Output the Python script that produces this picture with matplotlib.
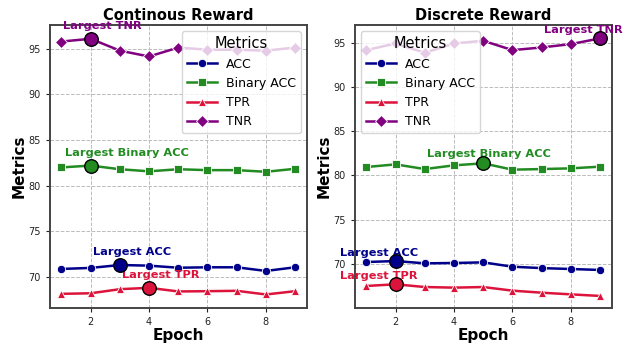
import numpy as np
import matplotlib
matplotlib.use("Agg")
import matplotlib.pyplot as plt

epochs = np.arange(1, 10)

# Continuous reward run
cont_acc = [70.87, 70.98, 71.30, 71.23, 71.00, 71.05, 71.05, 70.65, 71.05]
cont_bin = [82.00, 82.20, 81.80, 81.57, 81.80, 81.70, 81.70, 81.52, 81.85]
cont_tpr = [68.14, 68.20, 68.65, 68.80, 68.40, 68.43, 68.47, 68.07, 68.43]
cont_tnr = [95.80, 96.10, 94.80, 94.16, 95.14, 94.90, 94.90, 94.80, 95.14]

# Discrete reward run
disc_acc = [70.19, 70.30, 70.04, 70.08, 70.15, 69.66, 69.50, 69.40, 69.29]
disc_bin = [80.94, 81.24, 80.71, 81.13, 81.36, 80.64, 80.71, 80.79, 80.98]
disc_tpr = [67.48, 67.67, 67.36, 67.29, 67.36, 66.95, 66.72, 66.53, 66.35]
disc_tnr = [94.17, 94.92, 93.87, 94.92, 95.23, 94.17, 94.47, 94.85, 95.50]

names = ["ACC", "Binary ACC", "TPR", "TNR"]
colors = ["#00008B", "#228B22", "#DC143C", "#800080"]
markers = ["o", "s", "^", "D"]

panels = [
    dict(title="Continous Reward", data=[cont_acc, cont_bin, cont_tpr, cont_tnr],
         ylim=(66.6, 97.6), legend="upper right",
         offsets=[(8.6, 9.4), (26, 9.1), (8.6, 9.0), (8.6, 9.4)]),
    dict(title="Discrete Reward", data=[disc_acc, disc_bin, disc_tpr, disc_tnr],
         ylim=(65.0, 97.0), legend="upper left",
         offsets=[(-12, 5.8), (4.3, 6.5), (-12, 5.8), (-12, 5.8)]),
]

fig = plt.figure(figsize=(6.3, 3.44), dpi=100)
boxes = [[0.079, 0.105, 0.408, 0.822], [0.563, 0.105, 0.408, 0.822]]

for box, p in zip(boxes, panels):
    ax = fig.add_axes(box)
    for vals, name, c, m, off in zip(p["data"], names, colors, markers, p["offsets"]):
        ax.plot(epochs, vals, color=c, marker=m, markersize=6, lw=1.8, label=name,
                markeredgecolor="white", markeredgewidth=0.6)
        i = int(np.argmax(vals))
        ax.scatter(epochs[i], vals[i], s=95, color=c, edgecolor="black", lw=1.0, zorder=6)
        ax.annotate(f"Largest {name}", (epochs[i], vals[i]), xytext=off,
                    textcoords="offset points", ha="center", va="center",
                    fontsize=8.2, fontweight="bold", color=c, zorder=4,
                    annotation_clip=False)
    ax.set_xlim(0.6, 9.4)
    ax.set_ylim(*p["ylim"])
    ax.set_xticks([2, 4, 6, 8])
    ax.set_yticks([70, 75, 80, 85, 90, 95])
    ax.tick_params(labelsize=7, colors="#222222", length=3)
    ax.grid(True, linestyle="--", color="#bbbbbb", lw=0.7)
    for s in ax.spines.values():
        s.set_color("#444444")
        s.set_linewidth(1.4)
    ax.set_title(p["title"], fontsize=10.5, fontweight="bold", pad=4)
    ax.set_xlabel("Epoch", fontsize=11, fontweight="bold", labelpad=1)
    ax.set_ylabel("Metrics", fontsize=11, fontweight="bold", labelpad=1)
    ax.legend(title="Metrics", loc=p["legend"], fontsize=9, title_fontsize=10.5,
              borderaxespad=0.5, handlelength=2.4, labelspacing=0.5,
              borderpad=0.4, handletextpad=0.7)

fig.savefig("out.png", dpi=100)
